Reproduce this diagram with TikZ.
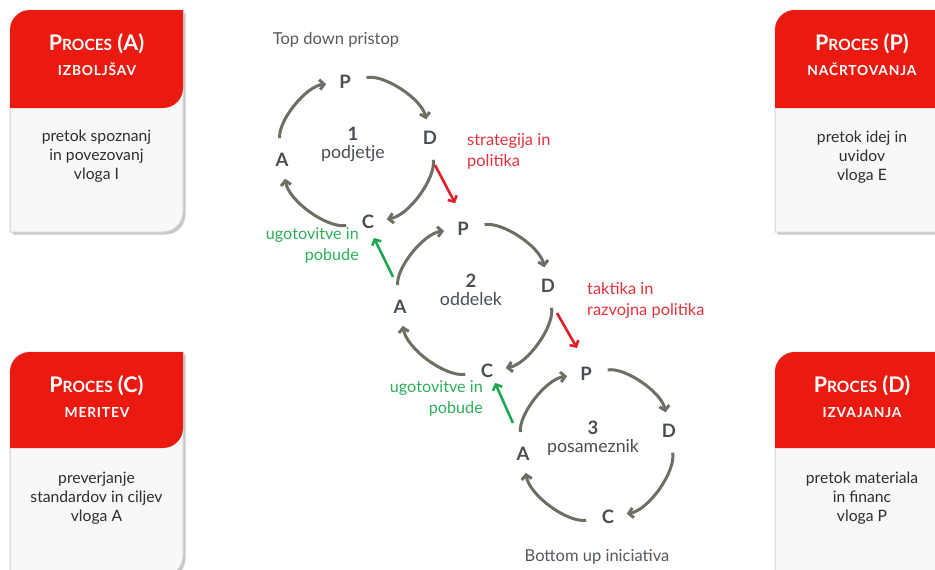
\documentclass[tikz,border=0pt]{standalone}
\usepackage{fontspec}
\setmainfont{Lato}
\usetikzlibrary{arrows.meta,calc}
\definecolor{hdred}{RGB}{235,26,16}
\definecolor{bodyfill}{RGB}{248,248,248}
\definecolor{boxline}{RGB}{212,212,212}
\definecolor{boxshadow}{RGB}{200,200,200}
\definecolor{ltrgray}{RGB}{72,78,84}
\definecolor{arrgray}{RGB}{110,110,100}
\definecolor{redarr}{RGB}{226,30,40}
\definecolor{redtxt}{RGB}{228,50,60}
\definecolor{grnarr}{RGB}{30,168,80}
\definecolor{grntxt}{RGB}{45,175,90}
\definecolor{bodytxt}{RGB}{45,45,45}
\definecolor{captxt}{RGB}{85,90,95}
\newcommand\procbox[5]{%
  \fill[boxshadow] ({#1+2.5},{#4-2.5}) -- ({#1+2.5},{#2-20-2.5}) arc[start angle=180,end angle=90,radius=20] -- ({#3+2.5},{#2-2.5}) -- ({#3+2.5},{#4+20-2.5}) arc[start angle=0,end angle=-90,radius=20] -- cycle;
  \filldraw[fill=bodyfill,draw=boxline,line width=1pt] (#1,#4) -- (#1,{#2-20}) arc[start angle=180,end angle=90,radius=20] -- (#3,#2) -- (#3,{#4+20}) arc[start angle=0,end angle=-90,radius=20] -- cycle;
  \fill[hdred] (#1,#5) -- (#1,{#2-20}) arc[start angle=180,end angle=90,radius=20] -- (#3,#2) -- (#3,{#5+20}) arc[start angle=0,end angle=-90,radius=20] -- cycle;
}
\newcommand\hdbig{\fontsize{21.5}{21.5}\selectfont}
\newcommand\hdsm{\fontsize{15.5}{15.5}\selectfont}
\begin{document}
\begin{tikzpicture}[x=1pt,y=1pt,
  ltr/.style={font=\fontsize{18.5}{18.5}\selectfont\bfseries, text=ltrgray, inner sep=0pt},
  numlbl/.style={font=\fontsize{18.5}{18.5}\selectfont\bfseries, text=ltrgray, inner sep=0pt, anchor=base},
  unitlbl/.style={font=\fontsize{17.8}{17.8}\selectfont, text=ltrgray, inner sep=0pt, anchor=base},
  cyc/.style={draw=arrgray, line width=3pt, shorten <=22pt, shorten >=19pt, -{Straight Barb[length=4.5pt,width=10pt]}},
  redar/.style={draw=redarr, line width=2.6pt, -{Straight Barb[length=4.5pt,width=10pt]}},
  grnar/.style={draw=grnarr, line width=2.6pt, -{Straight Barb[length=4.5pt,width=10pt]}},
  hd1/.style={text=white, font=\bfseries, inner sep=0pt, anchor=base},
  hd2/.style={text=white, font=\fontsize{13.8}{13.8}\selectfont\bfseries\addfontfeatures{LetterSpace=6}, inner sep=0pt, anchor=base},
  btxt/.style={text=bodytxt, font=\fontsize{15.7}{19}\selectfont, align=center, inner sep=0pt},
  redlbl/.style={text=redtxt, font=\fontsize{16.4}{20.5}\selectfont, align=left, inner sep=0pt, anchor=base west},
  grnlbl/.style={text=grntxt, font=\fontsize{16.2}{20.5}\selectfont, align=right, inner sep=0pt, anchor=base east},
  captext/.style={text=captxt, font=\fontsize{16.5}{16.5}\selectfont, inner sep=0pt, anchor=base}
]
\useasboundingbox (0,0) rectangle (935,-570);
\begin{scope}
\clip (0,0) rectangle (935,-570);
\procbox{10}{-10}{183}{-232}{-108}
\procbox{775}{-10}{960}{-232}{-108}
\procbox{10}{-352}{183}{-576}{-448}
\procbox{775}{-352}{960}{-576}{-448}
\end{scope}
% headers
\node[hd1] (hA) at (96.5,-50) {\hdbig P\hdsm ROCES\hdbig\ (A)};
\node[hd2] (hA2) at (97,-75) {IZBOLJŠAV};
\node[hd1] (hP) at (862,-50) {\hdbig P\hdsm ROCES\hdbig\ (P)};
\node[hd2] (hP2) at (862,-75) {NAČRTOVANJA};
\node[hd1] (hC) at (96.5,-392) {\hdbig P\hdsm ROCES\hdbig\ (C)};
\node[hd2] (hC2) at (97,-417) {MERITEV};
\node[hd1] (hD) at (862,-392) {\hdbig P\hdsm ROCES\hdbig\ (D)};
\node[hd2] (hD2) at (862,-417) {IZVAJANJA};
% bodies
\node[btxt] (bA) at (96.5,-156) {pretok spoznanj\\in povezovanj\\vloga I};
\node[btxt] (bP) at (862,-157) {pretok idej in\\uvidov\\vloga E};
\node[btxt] (bC) at (96.5,-498) {preverjanje\\standardov in ciljev\\vloga A};
\node[btxt] (bD) at (862,-498) {pretok materiala\\in financ\\vloga P};
% captions
\node[captext] (top) at (336,-45) {Top down pristop};
\node[captext] (bot) at (597,-561) {Bottom up iniciativa};
% cycle 1
\node[ltr] (P1) at (345,-82) {P};
\node[ltr] (D1) at (430,-138) {D};
\node[ltr] (C1) at (368,-222) {C};
\node[ltr] (A1) at (282,-160) {A};
\node[numlbl] (n1) at (353,-140) {1};
\node[unitlbl] (u1) at (353,-158) {podjetje};
% cycle 2
\node[ltr] (P2) at (463,-229) {P};
\node[ltr] (D2) at (548,-286) {D};
\node[ltr] (C2) at (487,-371) {C};
\node[ltr] (A2) at (400,-307) {A};
\node[numlbl] (n2) at (471,-287) {2};
\node[unitlbl] (u2) at (471,-305) {oddelek};
% cycle 3
\node[ltr] (P3) at (586,-374) {P};
\node[ltr] (D3) at (669,-431) {D};
\node[ltr] (C3) at (608,-517) {C};
\node[ltr] (A3) at (523,-454) {A};
\node[numlbl] (n3) at (593,-434) {3};
\node[unitlbl] (u3) at (593,-452) {posameznik};
% cycle arcs
\foreach \i in {1,2,3}{
  \draw[cyc] (P\i.center) to[bend left=45] (D\i.center);
  \draw[cyc] (D\i.center) to[bend left=45] (C\i.center);
  \draw[cyc] (C\i.center) to[bend left=45] (A\i.center);
  \draw[cyc] (A\i.center) to[bend left=45] (P\i.center);
}
% red arrows and labels
\draw[redar] ($(D1)+(-79.5:27.5)$) -- ($(P2)+(107:27)$);
\draw[redar] ($(D2)+(-71.6:28.5)$) -- ($(P3)+(109:27.5)$);
\node[redlbl] (r1) at (467,-166) {strategija in\\politika};
\node[redlbl] (r2) at (587,-315) {taktika in\\razvojna politika};
% green arrows and labels
\draw[grnar] ($(A2)+(103:30.8)$) -- ($(C1)+(-69.4:17)$);
\draw[grnar] ($(A3)+(108:32.6)$) -- ($(C2)+(-56:14.4)$);
\node[grnlbl] (g1) at (359,-260) {ugotovitve in\\pobude};
\node[grnlbl] (g2) at (483,-413) {ugotovitve in\\pobude};
\end{tikzpicture}
\end{document}
